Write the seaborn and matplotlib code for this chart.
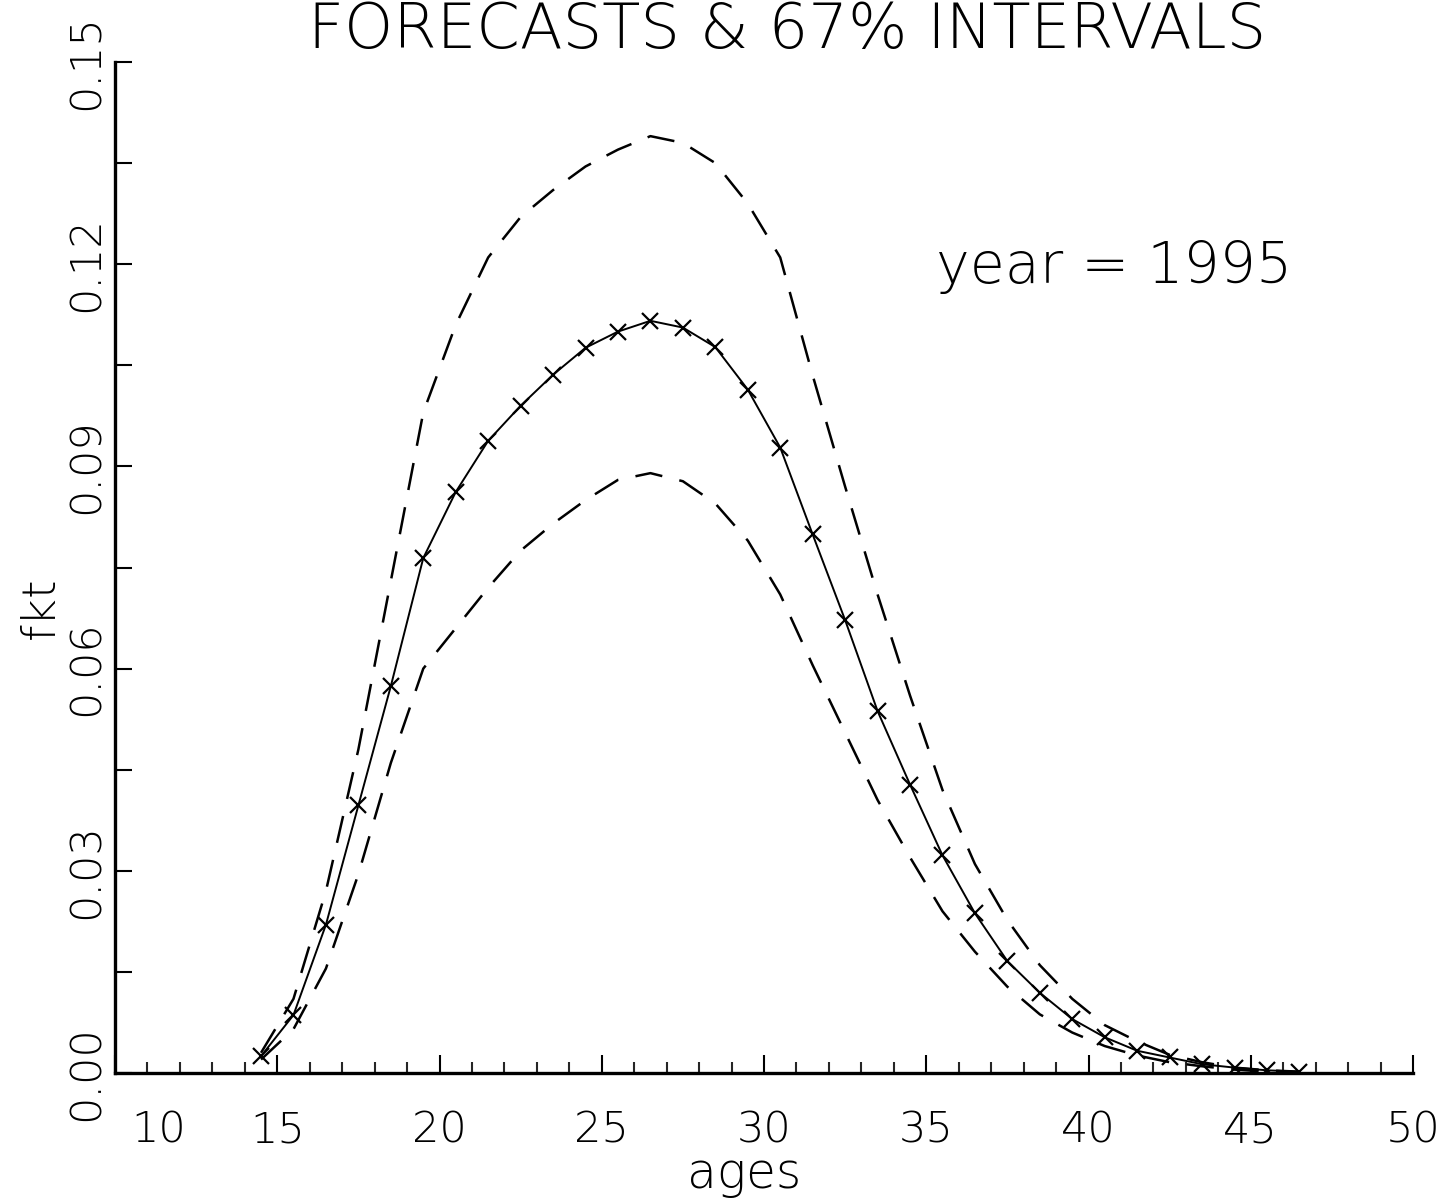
import numpy as np
import pandas as pd
import matplotlib
matplotlib.use("Agg")
import matplotlib.pyplot as plt
import matplotlib.transforms as mtransforms
import seaborn as sns
from matplotlib.ticker import MultipleLocator, FormatStrFormatter

ages = [14.5 + i for i in range(33)]
mean = [0.0025, 0.0086, 0.022, 0.0397, 0.0574, 0.0764, 0.0862, 0.0938, 0.099, 0.1036,
        0.1076, 0.110, 0.1116, 0.1106, 0.1077, 0.1014, 0.0928, 0.0799, 0.0672, 0.0537,
        0.0428, 0.0323, 0.0237, 0.0166, 0.0119, 0.0080, 0.0053, 0.0033, 0.0023, 0.0013,
        0.0008, 0.0004, 0.0002]
upper = [0.003, 0.011, 0.027, 0.048, 0.073, 0.098, 0.111, 0.121, 0.127, 0.131,
         0.1345, 0.137, 0.139, 0.138, 0.135, 0.129, 0.121, 0.1035, 0.087, 0.071,
         0.056, 0.042, 0.031, 0.0227, 0.016, 0.011, 0.0071, 0.0047, 0.0027, 0.0016,
         0.0008, 0.0004, 0.0002]
lower = [0.002, 0.0065, 0.0155, 0.0295, 0.046, 0.060, 0.066, 0.072, 0.0775, 0.0815,
         0.085, 0.088, 0.089, 0.0878, 0.0845, 0.079, 0.071, 0.0605, 0.0505, 0.0405,
         0.032, 0.024, 0.018, 0.0128, 0.0087, 0.006, 0.004, 0.0026, 0.0016, 0.001,
         0.0005, 0.0002, 0.0001]

title = "FORECASTS & 67% INTERVALS"
annot = "year = 1995"
xlabel = "ages"
ylabel = "fkt"

sns.set_style("ticks")
plt.rcParams["font.family"] = ["DejaVu Sans"]
plt.rcParams["font.weight"] = "light"
plt.rcParams["axes.labelweight"] = "light"
plt.rcParams["axes.labelcolor"] = "black"
plt.rcParams["text.color"] = "black"

fig = plt.figure(figsize=(14.45, 12.01), dpi=100)
ax = fig.add_axes([115 / 1445, 1 - 1073 / 1201, (1413 - 115) / 1445, (1073 - 62) / 1201])

df = pd.DataFrame({"age": ages, "mean": mean, "upper": upper, "lower": lower})

sns.lineplot(data=df, x="age", y="upper", ax=ax, color="black", lw=1.8,
             linestyle=(0, (11, 7)))
sns.lineplot(data=df, x="age", y="lower", ax=ax, color="black", lw=1.8,
             linestyle=(0, (11, 7)))
sns.lineplot(data=df, x="age", y="mean", ax=ax, color="black", lw=1.4,
             marker="x", markersize=12, markeredgewidth=1.6, markeredgecolor="black")

ax.set_xlim(10, 50)
ax.set_ylim(0, 0.15)
ax.xaxis.set_major_locator(MultipleLocator(5))
ax.xaxis.set_minor_locator(MultipleLocator(1))
ax.yaxis.set_major_locator(MultipleLocator(0.03))
ax.yaxis.set_minor_locator(MultipleLocator(0.015))
ax.yaxis.set_major_formatter(FormatStrFormatter("%.2f"))
ax.xaxis.set_major_formatter(FormatStrFormatter("%d"))

sns.despine(ax=ax)
for s in ("left", "bottom"):
    ax.spines[s].set_linewidth(2.4)
    ax.spines[s].set_color("black")

ax.tick_params(axis="x", which="major", direction="in", length=13, width=1.5,
               labelsize=31, pad=26, colors="black")
ax.tick_params(axis="x", which="minor", direction="in", length=8, width=1.5)
ax.tick_params(axis="y", which="both", direction="in", length=12, width=1.5,
               labelsize=31, pad=6, colors="black")
for lab in ax.get_yticklabels():
    lab.set_rotation(90)
    lab.set_va("center")

fig.canvas.draw()
shift = mtransforms.ScaledTranslation(12 / 72, 0, fig.dpi_scale_trans)
for t in ax.xaxis.get_major_ticks():
    if abs(t.get_loc() - 10) < 1e-6:
        t.label1.set_horizontalalignment("left")
        t.label1.set_transform(t.label1.get_transform() + shift)

ax.set_xlabel(xlabel, fontsize=35, fontweight="light", color="black")
ax.xaxis.set_label_coords(0.485, -0.076)
ax.set_ylabel(ylabel, fontsize=34, fontweight="light", color="black")
ax.yaxis.set_label_coords(-0.040, 0.46)

ax.text(35.3, 0.1195, annot, fontsize=41, ha="left", va="center")

fig.text(0.545, 1 - 1 / 1201, title, fontsize=45, ha="center", va="top")

fig.savefig("out.png", dpi=100, facecolor="white")
